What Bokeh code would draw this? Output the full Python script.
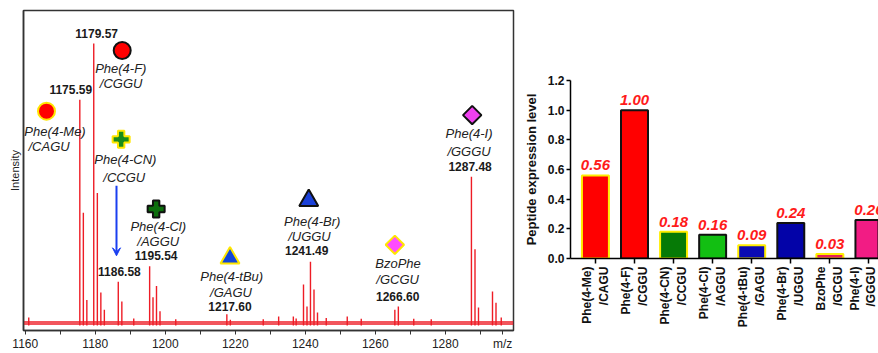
import math
from bokeh.plotting import figure
from bokeh.layouts import row
from bokeh.models import FixedTicker, Arrow, VeeHead, ColumnDataSource
from bokeh.core.properties import value
from bokeh.embed import file_html
from bokeh.resources import INLINE

FONT = "Liberation Sans"

# ---------------- Spectrum data (left panel) ----------------
peak_mz = [1161.0, 1175.59, 1176.60, 1177.60, 1179.57, 1180.60, 1181.60, 1182.60,
           1186.58, 1187.60, 1191.0, 1195.54, 1196.50, 1197.50, 1198.50, 1203.0,
           1217.60, 1218.6, 1228.0, 1232.4, 1236.6, 1237.4, 1239.50, 1240.50, 1241.49,
           1242.50, 1243.50, 1246.0, 1252.0, 1256.0, 1265.60, 1266.60, 1271.0,
           1276.0, 1287.48, 1288.50, 1289.50, 1293.50, 1294.50, 1296.0]
peak_int = [2.8, 80.0, 40.0, 9.0, 100.0, 47.0, 11.7, 5.6,
            15.5, 8.5, 2.5, 21.0, 10.0, 14.0, 5.0, 2.2,
            4.0, 2.0, 2.2, 3.2, 3.2, 2.5, 14.5, 6.7, 22.6,
            12.7, 4.6, 2.6, 3.2, 2.4, 5.6, 6.7, 2.4,
            2.2, 52.7, 27.0, 6.4, 12.0, 8.0, 2.8]

mz_ticks = [1160, 1180, 1200, 1220, 1240, 1260, 1280]
mz_minor = [1170, 1190, 1210, 1230, 1250, 1270, 1290, 1300]
mz_unit_pos = 1296.4

# annotation labels
ann_name = ["Phe(4-Me)", "Phe(4-F)", "Phe(4-CN)", "Phe(4-Cl)", "Phe(4-tBu)", "Phe(4-Br)", "BzoPhe", "Phe(4-I)"]
ann_seq = ["/CAGU", "/CGGU", "/CCGU", "/AGGU", "/GAGU", "/UGGU", "/GCGU", "/GGGU"]
mass_txt = ["1175.59", "1179.57", "1186.58", "1195.54", "1217.60", "1241.49", "1266.60", "1287.48"]

# ---------------- Bar data (right panel) ----------------
bar_labels = ["Phe(4-Me)\n/CAGU", "Phe(4-F)\n/CGGU", "Phe(4-CN)\n/CCGU", "Phe(4-Cl)\n/AGGU",
              "Phe(4-tBu)\n/GAGU", "Phe(4-Br)\n/UGGU", "BzoPhe\n/GCGU", "Phe(4-I)\n/GGGU"]
bar_values = [0.56, 1.00, 0.18, 0.16, 0.09, 0.24, 0.03, 0.26]
bar_fill = ["#ff0000", "#ff0000", "#067a06", "#12bf12", "#0a0ab4", "#0303a8", "#e8205a", "#f21c84"]
bar_line = ["#ffee00", "#111111", "#ffee00", "#111111", "#ffee00", "#111111", "#ffee00", "#111111"]
y_ticks = [0.0, 0.2, 0.4, 0.6, 0.8, 1.0, 1.2]

# ---------------- Left figure ----------------
RED = "#ee1c25"
p = figure(width=520, height=353, x_range=(1159.5, 1299.5), y_range=(-1.8, 111.7),
           output_backend="svg", toolbar_location=None,
           min_border_left=23, min_border_right=7, min_border_top=10, min_border_bottom=22)
p.frame_align = False
p.grid.visible = False
p.outline_line_color = "#333333"
p.outline_line_width = 1.5
p.background_fill_color = "white"

p.line([1159.5, 1299.5], [0.9, 0.9], line_color=RED, line_width=4, line_alpha=0.75)
src = ColumnDataSource(dict(mz=peak_mz, h=peak_int, z=[0] * len(peak_mz)))
p.segment(x0="mz", y0="z", x1="mz", y1="h", source=src, line_color=RED, line_width=1.4)

xa = p.xaxis[0]
xa.ticker = FixedTicker(ticks=mz_ticks + [mz_unit_pos], minor_ticks=mz_minor)
xa.major_label_overrides = {mz_unit_pos: "m/z"}
xa.major_tick_in = 0
xa.major_tick_out = 4
xa.minor_tick_in = 0
xa.minor_tick_out = 4
xa.axis_line_color = "#333333"
xa.axis_line_width = 1.5
xa.major_tick_line_color = "#333333"
xa.minor_tick_line_color = "#333333"
xa.major_label_text_font = FONT
xa.major_label_text_font_size = "12px"
xa.major_label_text_color = "#222222"
xa.major_label_standoff = 2

ya = p.yaxis[0]
ya.ticker = FixedTicker(ticks=[])
ya.major_tick_out = 0
ya.major_tick_in = 0
ya.minor_tick_out = 0
ya.major_label_standoff = 0
ya.major_label_text_font_size = "0px"
ya.axis_label = "Intensity"
ya.axis_label_text_font = FONT
ya.axis_label_text_font_style = "normal"
ya.axis_label_text_font_size = "11px"
ya.axis_label_text_color = "#222222"
ya.axis_label_standoff = 3
ya.axis_line_color = "#333333"
ya.axis_line_width = 1.5

mk_x = [1166.07, 1187.7, 1187.4, 1197.4, 1218.5, 1241.0, 1265.6, 1287.7]
mk_y = [76.0, 97.5, 66.0, 41.3, 23.9, 44.3, 28.6, 74.6]
mk_type = ["circle", "circle", "plus", "plus", "triangle", "triangle", "square", "square"]
mk_fill = ["#ff0000", "#ff0000", "#1a8c1a", "#0c6e0c", "#1245d8", "#1a40d8", "#ff4cff", "#f040f0"]
mk_line = ["#ffe600", "#111111", "#ffe600", "#111111", "#ffe600", "#111111", "#ffe600", "#111111"]
mk_size = [17, 17, 17, 17, 19, 19, 13, 13]
mk_angle = [0, 0, 0, 0, 0, 0, math.pi / 4, math.pi / 4]
p.scatter(x=mk_x, y=mk_y, marker=mk_type, fill_color=mk_fill, line_color=mk_line,
          size=mk_size, angle=mk_angle, line_width=2)

nm_x = [1168.5, 1187.3, 1188.6, 1198.0, 1219.0, 1242.0, 1266.5, 1286.8]
nm_y = [68.9, 91.3, 58.7, 35.1, 17.2, 36.9, 21.8, 68.1]
sq_x = [1166.8, 1187.4, 1188.3, 1198.0, 1218.8, 1241.2, 1266.4, 1286.8]
sq_y = [63.3, 85.8, 52.6, 29.8, 11.6, 31.6, 16.3, 61.8]
p.text(x=nm_x, y=nm_y, text=ann_name, text_font=value(FONT), text_font_size="13px",
       text_font_style="italic", text_align="center", text_baseline="middle", text_color="#222222")
p.text(x=sq_x, y=sq_y, text=ann_seq, text_font=value(FONT), text_font_size="13px",
       text_font_style="italic", text_align="center", text_baseline="middle", text_color="#222222")

ms_x = [1173.0, 1180.4, 1186.9, 1197.4, 1218.5, 1240.4, 1266.4, 1287.1]
ms_y = [83.7, 103.7, 19.2, 24.7, 6.8, 26.5, 10.4, 56.3]
p.text(x=ms_x, y=ms_y, text=mass_txt, text_font=value(FONT), text_font_size="12px",
       text_font_style="bold", text_align="center", text_baseline="middle", text_color="#1a1a1a")

p.add_layout(Arrow(x_start=1186.07, y_start=49.5, x_end=1186.07, y_end=24.7,
                   line_color="#1a3ff0", line_width=2,
                   end=VeeHead(size=8, line_color="#1a3ff0", fill_color="#1a3ff0", line_width=1)))

# ---------------- Right figure ----------------
xs = list(range(1, len(bar_values) + 1))
q = figure(width=358, height=353, x_range=(0.362, 8.245), y_range=(0, 1.2),
           output_backend="svg", toolbar_location=None,
           min_border_left=49, min_border_right=0, min_border_top=80, min_border_bottom=95)
q.frame_align = False
q.grid.visible = False
q.outline_line_color = None
q.vbar(x=xs, top=bar_values, width=0.69, fill_color=bar_fill, line_color=bar_line, line_width=2)
q.text(x=xs, y=bar_values, text=[f"{v:.2f}" for v in bar_values], text_font=value(FONT),
       text_font_size="15px", text_font_style="bold italic", text_color="#ff1a1a",
       text_align="center", text_baseline="bottom", y_offset=-5)

qx = q.xaxis[0]
qx.ticker = FixedTicker(ticks=xs)
qx.major_label_overrides = {i: lab for i, lab in zip(xs, bar_labels)}
qx.major_label_orientation = math.pi / 2
qx.major_label_text_font = FONT
qx.major_label_text_font_size = "12px"
qx.major_label_text_font_style = "bold"
qx.major_label_text_color = "#111111"
qx.major_tick_in = 0
qx.major_tick_out = 5
qx.minor_tick_out = 0
qx.major_label_standoff = 3
qx.axis_line_width = 1.5
qx.major_tick_line_width = 1.5

qy = q.yaxis[0]
qy.ticker = FixedTicker(ticks=y_ticks)
qy.major_label_overrides = {t: f"{t:.1f}" for t in y_ticks}
qy.major_label_text_font = FONT
qy.major_label_text_font_size = "12px"
qy.major_label_text_font_style = "bold"
qy.major_label_text_color = "#111111"
qy.major_tick_in = 0
qy.major_tick_out = 4
qy.minor_tick_out = 0
qy.major_label_standoff = 2
qy.axis_line_width = 1.5
qy.major_tick_line_width = 1.5
qy.axis_label = "Peptide expression level"
qy.axis_label_text_font = FONT
qy.axis_label_text_font_style = "bold"
qy.axis_label_text_font_size = "13px"
qy.axis_label_text_color = "#111111"
qy.axis_label_standoff = 6

layout = row(p, q)
open("out.html", "w").write(file_html(layout, INLINE))
